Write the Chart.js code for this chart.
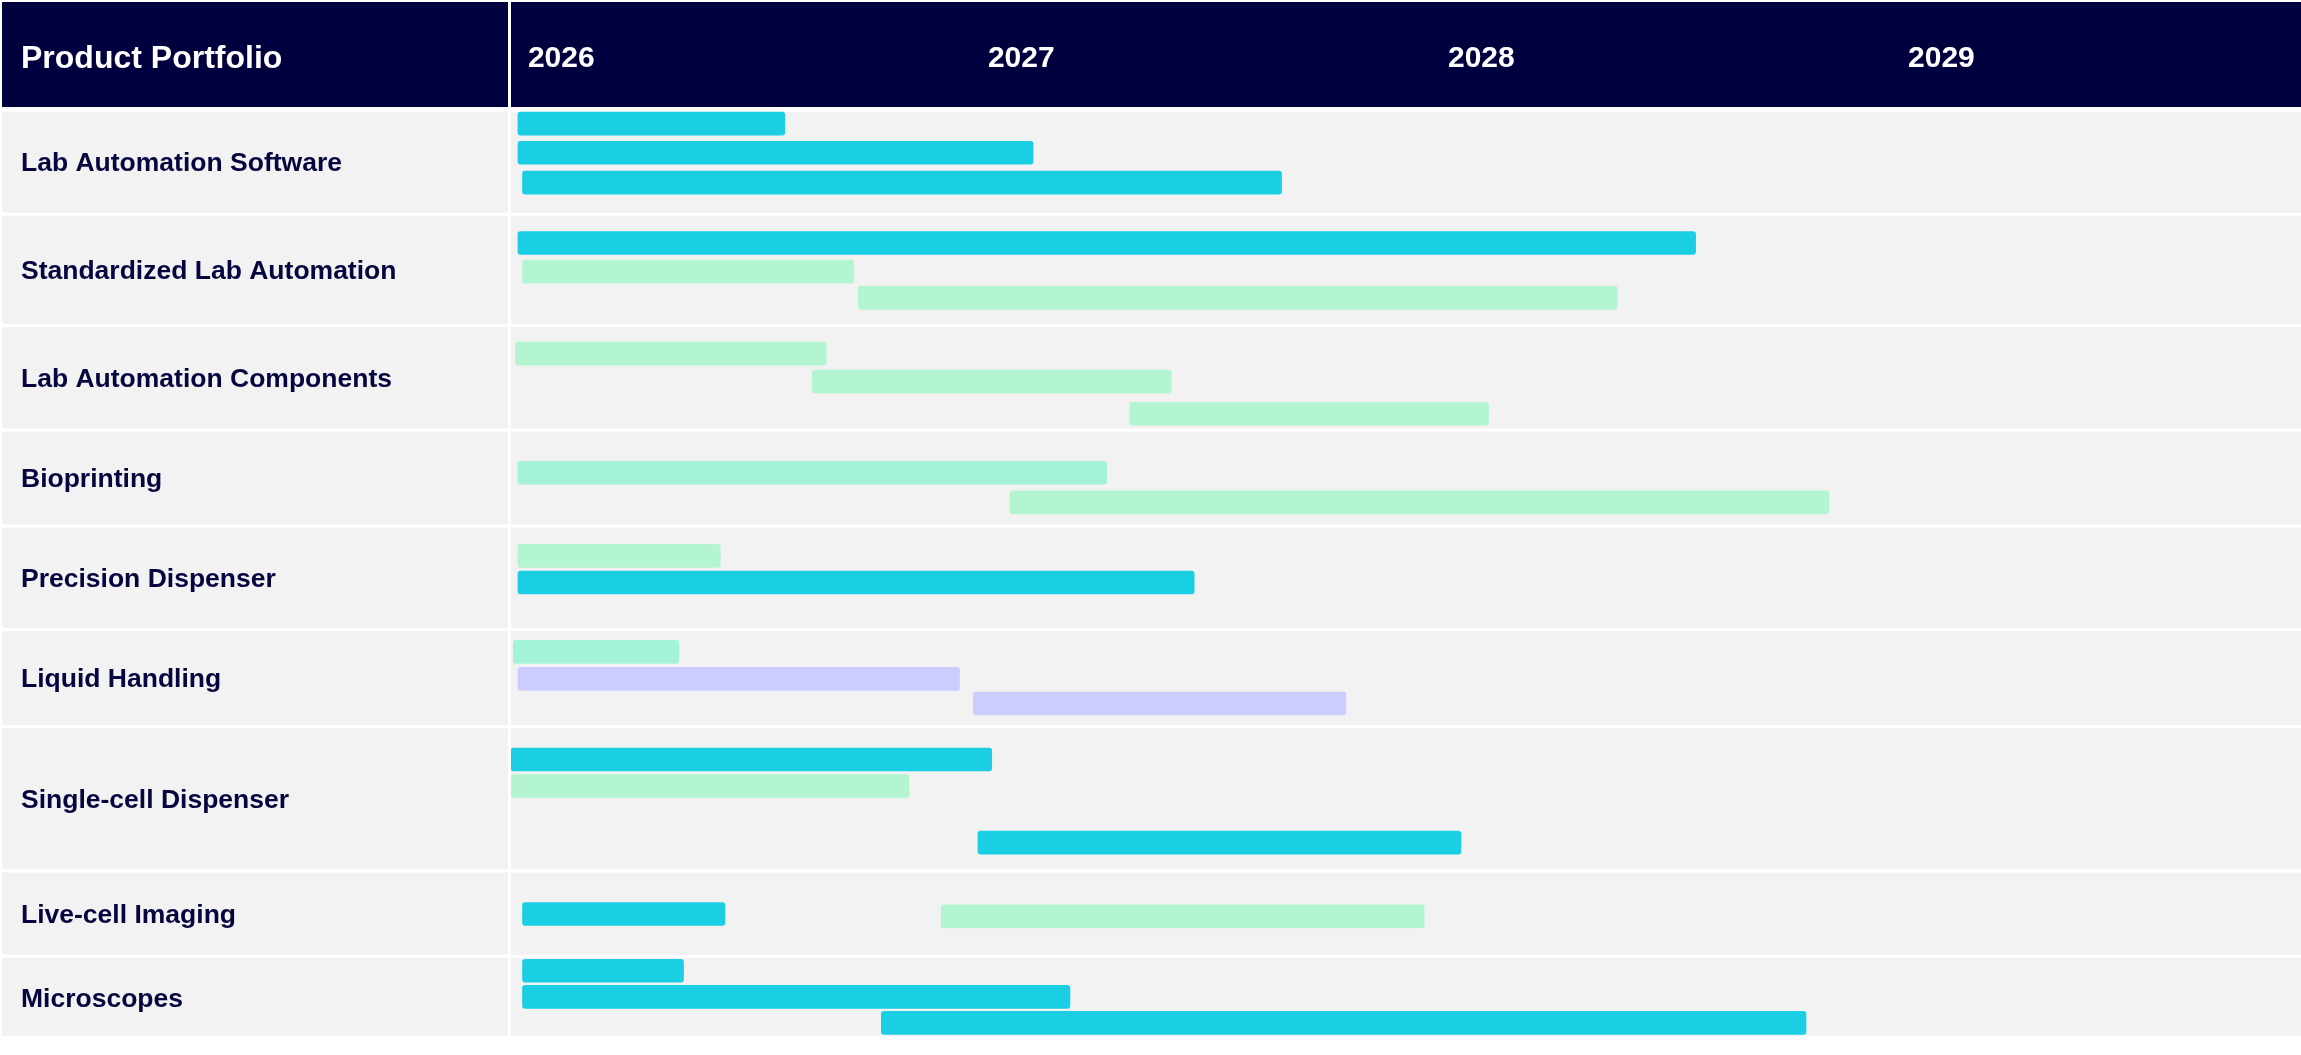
<!DOCTYPE html>
<html>
<head>
<meta charset="utf-8">
<title>Product Portfolio</title>
<script src="https://cdn.jsdelivr.net/npm/chart.js@4.4.1/dist/chart.umd.min.js"></script>
<style>
    html, body { margin: 0; padding: 0; background: #ffffff; overflow: hidden; }
    #roadmap { display: block; }
</style>
</head>
<body>
<canvas id="roadmap" width="2301" height="1055"></canvas>
<script>
// ROW LABELS AND YEAR HEADERS
var categories = [
    "Lab Automation Software",
    "Standardized Lab Automation",
    "Lab Automation Components",
    "Bioprinting",
    "Precision Dispenser",
    "Liquid Handling",
    "Single-cell Dispenser",
    "Live-cell Imaging",
    "Microscopes"
];
var years = [2026, 2027, 2028, 2029];

// ROW EDGES ON THE TRACK AXIS (one track ~ one bar lane)
var rowEdges = [0.07, 3.87, 7.93, 11.73, 15.23, 19.0, 22.55, 27.8, 30.91, 33.9];

// BARS PER SERIES: [track, start, end]
var cyanBars = [
    [0.57, 2026.0, 2026.58],
    [1.63, 2026.0, 2027.12],
    [2.72, 2026.01, 2027.66],
    [4.92, 2026.0, 2028.56],
    [17.29, 2026.0, 2027.47],
    [23.74, 2025.985, 2027.03],
    [26.77, 2027.0, 2028.05],
    [29.37, 2026.01, 2026.45],
    [31.44, 2026.01, 2026.36],
    [32.39, 2026.01, 2027.2],
    [33.34, 2026.79, 2028.8]
];
var greenBars = [
    [5.96, 2026.01, 2026.73],
    [6.92, 2026.74, 2028.39],
    [8.95, 2025.995, 2026.67],
    [9.97, 2026.64, 2027.42],
    [11.14, 2027.33, 2028.11],
    [14.37, 2027.07, 2028.85],
    [16.32, 2026.0, 2026.44],
    [24.71, 2025.985, 2026.85],
    [29.46, 2026.92, 2027.97]
];
var mintBars = [
    [13.29, 2026.0, 2027.28],
    [19.82, 2025.99, 2026.35]
];
var lavenderBars = [
    [20.8, 2026.0, 2026.96],
    [21.7, 2026.99, 2027.8]
];

var navy = "#00003f";
var labelColor = "#06063f";
var fontFamily = '"Liberation Sans", Arial, Helvetica, sans-serif';

function toDataset(list, color) {
    return {
        data: list.map(function(b) {
            return { x: [b[1], b[2]], y: b[0] };
        }),
        backgroundColor: color,
        borderWidth: 0,
        borderRadius: 3,
        borderSkipped: false,
        barThickness: 23,
        stack: "gantt"
    };
}

// HEADER, ROW BANDS AND TITLE
var backdrop = {
    id: "backdrop",
    beforeDraw: function(chart) {
        var ctx = chart.ctx;
        var area = chart.chartArea;
        var yScale = chart.scales.y;
        var w = chart.width;
        ctx.save();
        ctx.fillStyle = "#ffffff";
        ctx.fillRect(0, 0, w, chart.height);

        ctx.fillStyle = navy;
        ctx.fillRect(2, 2, area.left - 5, area.top - 3);
        ctx.fillRect(area.left, 2, w - area.left, area.top - 3);

        ctx.fillStyle = "#f2f2f2";
        ctx.fillRect(2, area.top, area.left - 5, area.bottom - area.top);
        ctx.fillRect(area.left, area.top, w - area.left, area.bottom - area.top);

        ctx.strokeStyle = "#ffffff";
        ctx.lineWidth = 3;
        for (var i = 0; i < rowEdges.length; i++) {
            var y = yScale.getPixelForValue(rowEdges[i]);
            ctx.beginPath();
            ctx.moveTo(0, y);
            ctx.lineTo(w, y);
            ctx.stroke();
        }

        ctx.fillStyle = "#ffffff";
        ctx.font = "bold 32px " + fontFamily;
        ctx.textBaseline = "middle";
        ctx.fillText("Product Portfolio", 21, 59);
        ctx.restore();
    }
};

var ctx = document.getElementById("roadmap").getContext("2d");
var roadmapChart = new Chart(ctx, {
    type: "bar",
    data: {
        datasets: [
            toDataset(cyanBars, "#1acee3"),
            toDataset(greenBars, "#b2f5d0"),
            toDataset(mintBars, "#a5f3d6"),
            toDataset(lavenderBars, "#ccccff")
        ]
    },
    plugins: [backdrop],
    options: {
        indexAxis: "y",
        responsive: false,
        animation: false,
        devicePixelRatio: 1,
        layout: { padding: { left: 21, top: 0, right: 0, bottom: 0 } },
        plugins: {
            legend: { display: false },
            tooltip: { enabled: false }
        },
        scales: {
            x: {
                type: "linear",
                position: "top",
                min: 2025.985,
                max: 2029.876,
                stacked: false,
                grid: { display: false, drawTicks: false },
                border: { display: false },
                afterBuildTicks: function(scale) {
                    scale.ticks = years.map(function(v) { return { value: v }; });
                },
                afterFit: function(scale) { scale.height = 108; },
                ticks: {
                    autoSkip: false,
                    align: "start",
                    labelOffset: 10,
                    padding: 31,
                    color: "#ffffff",
                    font: { family: fontFamily, size: 30, weight: "bold" },
                    callback: function(value) { return String(value); }
                }
            },
            y: {
                type: "linear",
                reverse: true,
                min: 0,
                max: 33.82,
                offset: false,
                grid: { display: false, drawTicks: false },
                border: { display: false },
                afterBuildTicks: function(scale) {
                    scale.ticks = categories.map(function(c, i) {
                        return { value: (rowEdges[i] + rowEdges[i + 1]) / 2 };
                    });
                },
                afterFit: function(scale) { scale.width = 490; },
                ticks: {
                    autoSkip: false,
                    crossAlign: "far",
                    labelOffset: 2,
                    color: labelColor,
                    font: { family: fontFamily, size: 26.5, weight: "bold" },
                    callback: function(value, index) { return categories[index]; }
                }
            }
        }
    }
});
</script>
</body>
</html>
